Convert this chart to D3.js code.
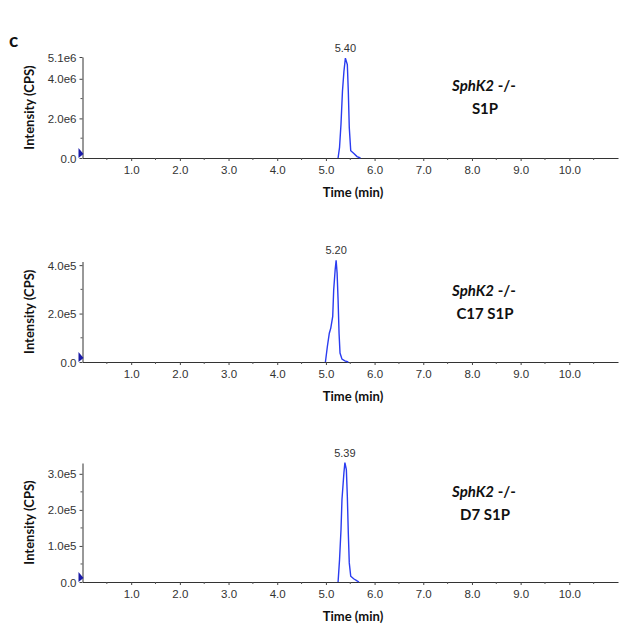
<!DOCTYPE html>
<html>
<head>
<meta charset="utf-8">
<script src="https://cdn.jsdelivr.net/npm/d3@7"></script>
<style>
  body { margin: 0; background: #fff; }
  svg { display: block; }
  .lbl { font-family: Lato, "Open Sans", sans-serif; font-weight: bold; fill: #111; }
  .tick text { font-family: "Liberation Sans", Arial, sans-serif; font-size: 11.5px; fill: #333; }
</style>
</head>
<body>
<svg width="624" height="629"></svg>
<script>
// peak traces: retention time (min) / intensity (CPS)
const s1pTime = [5.25, 5.28, 5.31, 5.34, 5.37, 5.40, 5.44, 5.46, 5.48, 5.51, 5.58, 5.64, 5.71];
const s1pInt  = [0, 0.54e6, 1.72e6, 3.37e6, 4.37e6, 5.04e6, 4.72e6, 3.37e6, 1.54e6, 0.37e6, 0.22e6, 0.07e6, 0];

const c17Time = [4.99, 5.03, 5.07, 5.10, 5.14, 5.16, 5.19, 5.21, 5.23, 5.25, 5.27, 5.29, 5.33, 5.39, 5.46];
const c17Int  = [0, 0.64e5, 1.19e5, 1.40e5, 1.88e5, 2.98e5, 3.81e5, 4.2e5, 3.67e5, 2.57e5, 1.19e5, 0.37e5, 0.12e5, 0.05e5, 0];

const d7Time = [5.25, 5.28, 5.31, 5.33, 5.37, 5.39, 5.42, 5.44, 5.46, 5.48, 5.51, 5.57, 5.64, 5.68];
const d7Int  = [0, 0.62e5, 1.45e5, 2.29e5, 3.03e5, 3.31e5, 3.12e5, 2.38e5, 1.36e5, 0.53e5, 0.16e5, 0.09e5, 0.03e5, 0];

const panels = [
  { time: s1pTime, value: s1pInt, yMax: 5.1e6, peak: "5.40", name: "S1P",
    yTicks: [0, 2e6, 4e6, 5.1e6], yLabels: ["0.0", "2.0e6", "4.0e6", "5.1e6"], yMinor: [1e6, 3e6],
    base: 158, top: 57 },
  { time: c17Time, value: c17Int, yMax: 4.15e5, peak: "5.20", name: "C17 S1P",
    yTicks: [0, 2e5, 4e5], yLabels: ["0.0", "2.0e5", "4.0e5"], yMinor: [1e5, 3e5],
    base: 362, top: 261.5 },
  { time: d7Time, value: d7Int, yMax: 3.3e5, peak: "5.39", name: "D7 S1P",
    yTicks: [0, 1e5, 2e5, 3e5], yLabels: ["0.0", "1.0e5", "2.0e5", "3.0e5"], yMinor: [0.5e5, 1.5e5, 2.5e5],
    base: 582, top: 463 }
];
const xTicks = [1, 2, 3, 4, 5, 6, 7, 8, 9, 10];
const xMinor = [0.5, 1.5, 2.5, 3.5, 4.5, 5.5, 6.5, 7.5, 8.5, 9.5, 10.5];

const svg = d3.select("svg");

svg.append("text").attr("class", "lbl")
  .attr("x", 9).attr("y", 47)
  .style("font-size", "19px")
  .text("c");

const x = d3.scaleLinear().domain([0, 11]).range([82.5, 618]);

panels.forEach(function(p) {
  let y = d3.scaleLinear().domain([0, p.yMax]).range([p.base, p.top]);
  let g = svg.append("g");

  // x axis
  let xAxis = d3.axisBottom(x).tickValues(xTicks).tickFormat(d3.format(".1f"))
    .tickSize(3).tickPadding(5).tickSizeOuter(0);
  let xg = g.append("g").attr("transform", `translate(0, ${p.base})`).call(xAxis);
  xg.select(".domain").attr("stroke", "#333");
  xg.selectAll(".tick line").attr("stroke", "#444");
  xg.selectAll(".minor").data(xMinor).enter().append("line")
    .attr("class", "minor")
    .attr("x1", d => x(d)).attr("x2", d => x(d))
    .attr("y1", 0).attr("y2", 2)
    .attr("stroke", "#555");

  // y axis
  let yAxis = d3.axisLeft(y).tickValues(p.yTicks).tickFormat((d, i) => p.yLabels[i])
    .tickSize(3).tickPadding(3).tickSizeOuter(0);
  let yg = g.append("g").attr("transform", `translate(${x(0)}, 0)`).call(yAxis);
  yg.select(".domain").attr("stroke", "#333");
  yg.selectAll(".tick line").attr("stroke", "#444");
  yg.selectAll(".tick text").attr("dy", "0.35em");
  yg.selectAll(".minor").data(p.yMinor).enter().append("line")
    .attr("class", "minor")
    .attr("x1", -2).attr("x2", 0)
    .attr("y1", d => y(d)).attr("y2", d => y(d))
    .attr("stroke", "#555");

  // blue marker at origin
  g.append("path")
    .attr("d", `M${x(0) - 4},${p.base - 10} L${x(0) + 1},${p.base - 4} L${x(0) - 4},${p.base} Z`)
    .attr("fill", "#1a1aa8");

  // trace
  let pts = p.time.map((t, i) => [t, p.value[i]]);
  let line = d3.line().x(d => x(d[0])).y(d => y(d[1]));
  g.append("path")
    .datum(pts)
    .attr("d", line)
    .attr("fill", "none")
    .attr("stroke", "#2a3cf0")
    .attr("stroke-width", 1.4);

  // peak label
  let top = pts.reduce((a, b) => b[1] > a[1] ? b : a);
  g.append("text")
    .attr("x", x(top[0])).attr("y", y(top[1]) - 6)
    .attr("text-anchor", "middle")
    .style("font-family", "Liberation Sans, Arial, sans-serif")
    .style("font-size", "11px")
    .style("fill", "#333")
    .text(p.peak);

  // axis titles
  g.append("text").attr("class", "lbl")
    .attr("transform", `translate(34, ${(p.base + p.top) / 2}) rotate(-90)`)
    .attr("text-anchor", "middle")
    .style("font-size", "13px")
    .text("Intensity (CPS)");
  g.append("text").attr("class", "lbl")
    .attr("x", 353).attr("y", p.base + 39)
    .attr("text-anchor", "middle")
    .style("font-size", "13px")
    .text("Time (min)");

  // sample annotation
  let ann = g.append("text").attr("class", "lbl")
    .attr("x", 484).attr("y", p.top + 34)
    .attr("text-anchor", "middle")
    .style("font-size", "15px");
  ann.append("tspan").style("font-style", "italic").text("SphK2");
  ann.append("tspan").text(" -/-");
  g.append("text").attr("class", "lbl")
    .attr("x", 485).attr("y", p.top + 57)
    .attr("text-anchor", "middle")
    .style("font-size", "15px")
    .text(p.name);
});
</script>
</body>
</html>
